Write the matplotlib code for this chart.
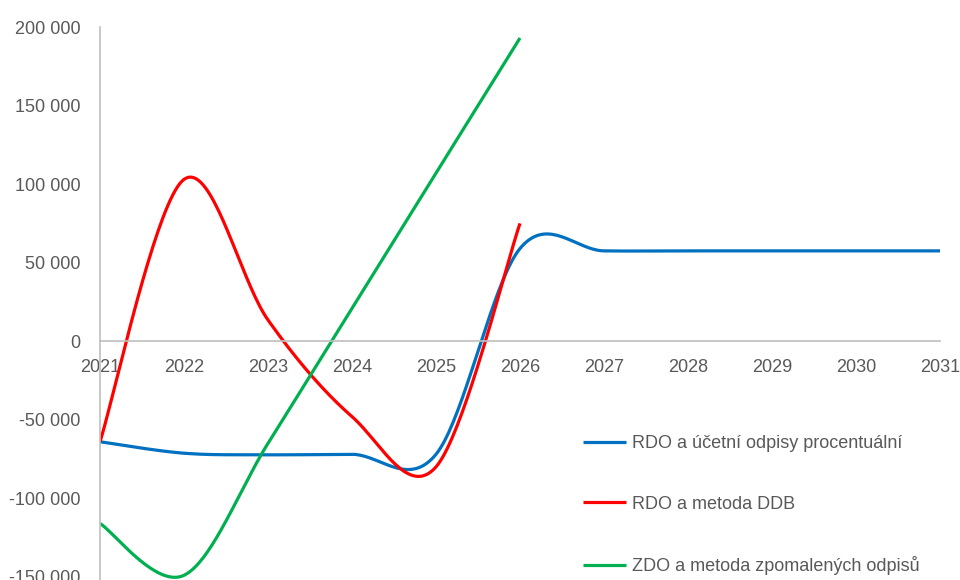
import matplotlib
matplotlib.use('Agg')
import matplotlib.pyplot as plt
import numpy as np
from matplotlib.ticker import FuncFormatter

plt.rcParams['font.family'] = ['Liberation Sans', 'DejaVu Sans']

# yearly values
years = [2021, 2022, 2023, 2024, 2025, 2026, 2027, 2028, 2029, 2030, 2031]
rdo_procent = [-64000, -71300, -72300, -72000, -72000, 59000, 57500, 57500, 57500, 57500, 57500]
ddb_years = [2021, 2022, 2023, 2024, 2025, 2026]
rdo_ddb = [-64000, 103000, 13500, -48000, -80000, 75000]
zdo_years = [2021, 2022, 2023, 2024, 2025, 2026]
zdo_zpomal = [-116000, -149000, -65000, 21000, 107000, 193000]

labels = ['RDO a účetní odpisy procentuální', 'RDO a metoda DDB',
          'ZDO a metoda zpomalených odpisů']
colors = ['#0070C0', '#FF0000', '#00B050']
text_color = '#595959'
axis_color = '#BFBFBF'


def smooth(xs, ys, n=40):
    # Excel-like smoothed line (Catmull-Rom via Bezier segments)
    xs = np.asarray(xs, float)
    ys = np.asarray(ys, float)
    px = np.concatenate([[xs[0]], xs, [xs[-1]]])
    py = np.concatenate([[ys[0]], ys, [ys[-1]]])
    outx, outy = [], []
    t = np.linspace(0, 1, n)
    for i in range(1, len(px) - 2):
        p0 = np.array([px[i], py[i]])
        p3 = np.array([px[i + 1], py[i + 1]])
        c1 = p0 + (p3 - np.array([px[i - 1], py[i - 1]])) / 6
        c2 = p3 - (np.array([px[i + 2], py[i + 2]]) - p0) / 6
        pts = ((1 - t)[:, None] ** 3 * p0 + 3 * (1 - t)[:, None] ** 2 * t[:, None] * c1
               + 3 * (1 - t)[:, None] * t[:, None] ** 2 * c2 + t[:, None] ** 3 * p3)
        outx.extend(pts[:, 0])
        outy.extend(pts[:, 1])
    return outx, outy


fig = plt.figure(figsize=(9.6, 5.8), dpi=100)
ax = fig.add_axes([100 / 960, 0, 840 / 960, 1 - 27 / 580])

series = [(years, rdo_procent), (ddb_years, rdo_ddb), (zdo_years, zdo_zpomal)]
handles = []
for (xs, ys), lab, c in zip(series, labels, colors):
    sx, sy = smooth(xs, ys)
    h, = ax.plot(sx, sy, color=c, linewidth=2.3, label=lab, solid_capstyle='butt')
    handles.append(h)

ax.set_xlim(2021, 2031)
ax.set_ylim(-152000, 200000)
ax.set_xticks(years)
ax.set_yticks(np.arange(-150000, 200001, 50000))
ax.yaxis.set_major_formatter(FuncFormatter(lambda v, p: f"{v:,.0f}".replace(",", " ")))

for s in ['top', 'right']:
    ax.spines[s].set_visible(False)
ax.spines['bottom'].set_position(('data', 0))
ax.spines['bottom'].set_color(axis_color)
ax.spines['left'].set_color(axis_color)
ax.spines['bottom'].set_linewidth(1.2)
ax.spines['left'].set_linewidth(1.2)
ax.tick_params(axis='both', length=0, labelsize=13, colors=text_color)
ax.tick_params(axis='x', pad=13)
ax.tick_params(axis='y', pad=14)

ax.legend(handles=handles, loc='upper left', bbox_to_anchor=(583 / 960, 1 - 435 / 580),
          bbox_transform=fig.transFigure, frameon=False, fontsize=13,
          labelcolor=text_color, handlelength=2.4, handletextpad=0.3,
          labelspacing=2.42, borderpad=0, borderaxespad=0)

fig.savefig('out.png', dpi=100)
